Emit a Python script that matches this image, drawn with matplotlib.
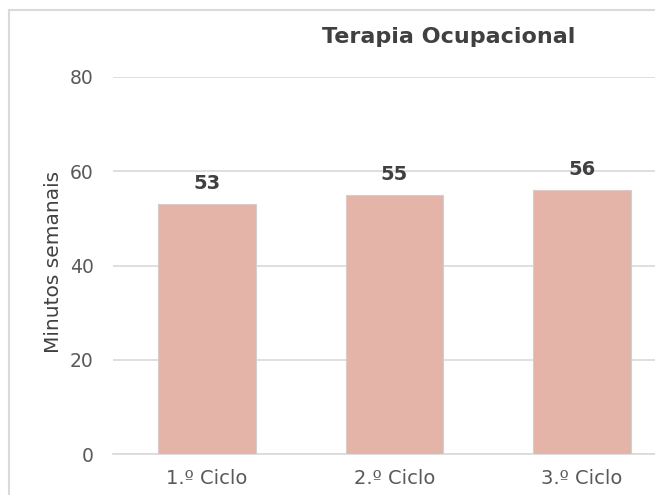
import matplotlib
matplotlib.use("Agg")
import matplotlib.pyplot as plt
from matplotlib.patches import Rectangle

# dados
ciclos = ["1.º Ciclo", "2.º Ciclo", "3.º Ciclo"]
minutos = [53, 55, 56]
yticks = [0, 20, 40, 60, 80]

fig = plt.figure(figsize=(6.55, 4.95), dpi=100)

# moldura cinza do gráfico (cortada à direita e em baixo)
fig.patches.append(Rectangle((9 / 655, -0.1), 1.2, 1 - 10 / 495 + 0.1,
                             transform=fig.transFigure, fill=False,
                             edgecolor="#DADADA", linewidth=1.5))

ax = fig.add_axes([113 / 655, 1 - 454 / 495, 1 - 113 / 655, (454 - 77) / 495])

x = list(range(len(ciclos)))
ax.bar(x, minutos, width=0.52, color="#E4B4A9", edgecolor="#D0D0D0",
       linewidth=0.8, zorder=3)

for xi, v in zip(x, minutos):
    ax.annotate(str(v), (xi, v), xytext=(0, 8), textcoords="offset points",
                ha="center", va="bottom", fontsize=14, fontweight="bold",
                color="#404040")

ax.set_xlim(-0.5, -0.5 + (655 - 113) / 187.5)
ax.set_ylim(0, 80)
ax.set_yticks(yticks)
ax.set_xticks(x)
ax.set_xticklabels(ciclos)
ax.tick_params(axis="both", length=0, colors="#595959")
ax.tick_params(axis="y", pad=14, labelsize=13.5)
ax.tick_params(axis="x", pad=11, labelsize=14)
ax.grid(axis="y", color="#D9D9D9", linewidth=1.2, zorder=0)
ax.set_axisbelow(True)
for s in ["top", "right", "left"]:
    ax.spines[s].set_visible(False)
ax.spines["bottom"].set_color("#D9D9D9")
ax.spines["bottom"].set_linewidth(1.2)

ax.set_ylabel("Minutos semanais", fontsize=14.5, color="#404040")
ax.yaxis.set_label_coords(-50 / 542, 0.51)

fig.text(449 / 655, 1 - 37 / 495, "Terapia Ocupacional", ha="center",
         va="center", fontsize=16, fontweight="bold", color="#404040")

fig.savefig("out.png", dpi=100)
